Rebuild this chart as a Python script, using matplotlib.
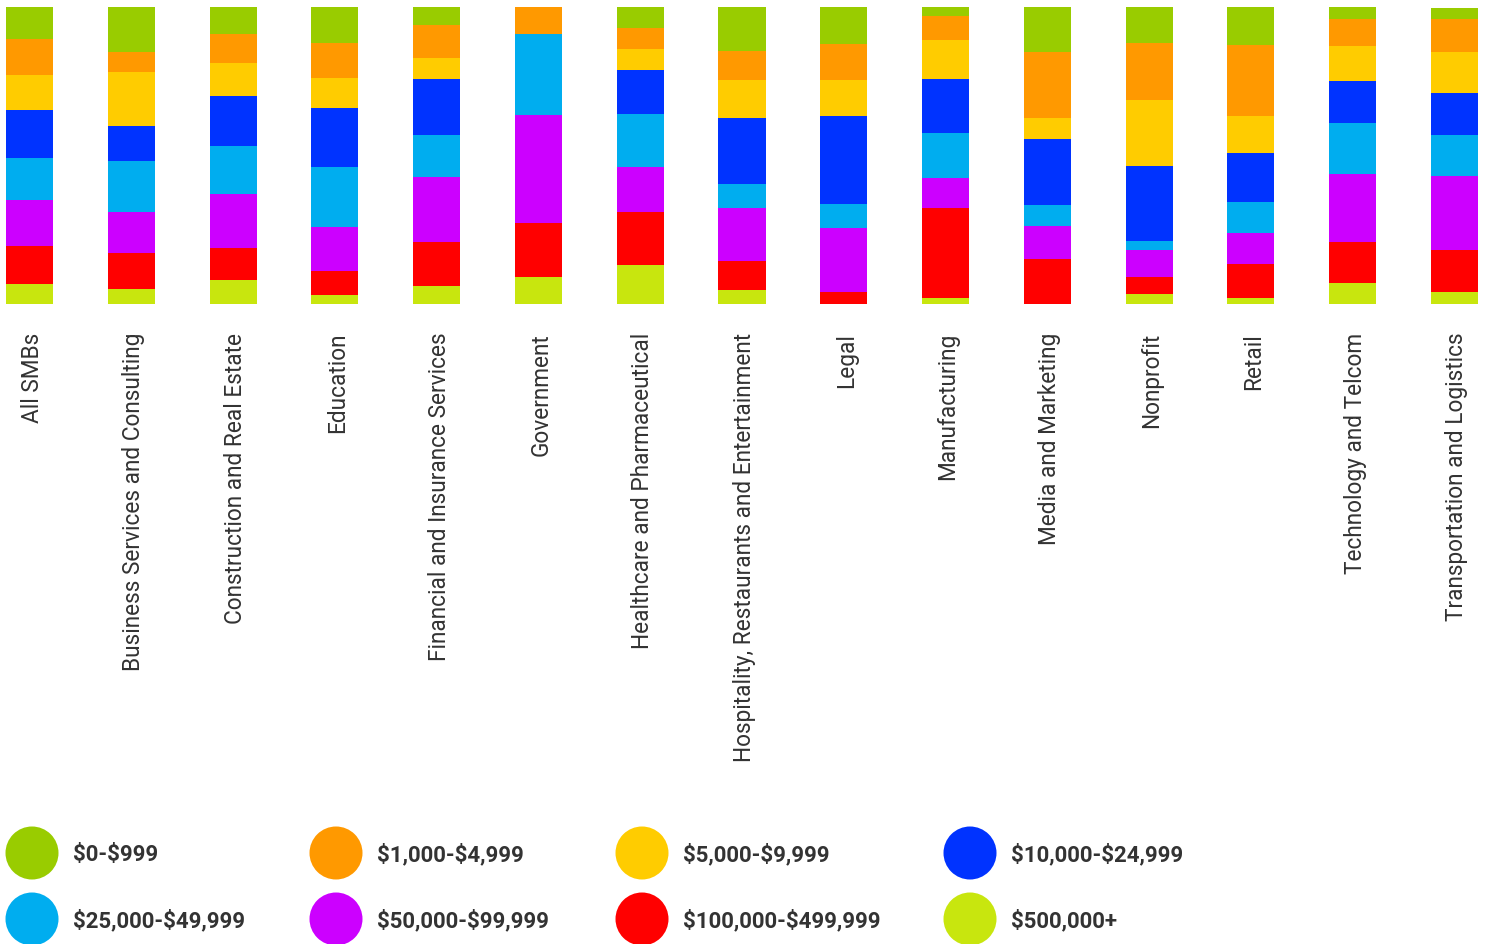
import matplotlib
matplotlib.use("Agg")
import matplotlib.pyplot as plt
from matplotlib.patches import Circle
from matplotlib.transforms import ScaledTranslation
import numpy as np

plt.rcParams['font.family'] = ['Roboto', 'DejaVu Sans']
plt.rcParams['text.parse_math'] = False

categories = [
    "All SMBs",
    "Business Services and Consulting",
    "Construction and Real Estate",
    "Education",
    "Financial and Insurance Services",
    "Government",
    "Healthcare and Pharmaceutical",
    "Hospitality, Restaurants and Entertainment",
    "Legal",
    "Manufacturing",
    "Media and Marketing",
    "Nonprofit",
    "Retail",
    "Technology and Telcom",
    "Transportation and Logistics",
]

# Spend brackets (legend order, top of stack first)
brackets = [
    "$0-$999", "$1,000-$4,999", "$5,000-$9,999", "$10,000-$24,999",
    "$25,000-$49,999", "$50,000-$99,999", "$100,000-$499,999", "$500,000+",
]
colors = ["#99CC00", "#FF9900", "#FFCC00", "#0033FF",
          "#00ADEF", "#CC00FF", "#FF0000", "#C8E60E"]

# Share of respondents (%) per bracket, one value per category
share_0_999 = [10.7, 15.2, 9.1, 12.0, 5.9, 0.0, 7.1, 14.7, 12.5, 3.0, 15.4, 12.0, 12.7, 3.9, 3.9]
share_1k_5k = [12.2, 6.7, 9.8, 11.9, 11.2, 9.1, 7.1, 9.9, 12.1, 8.1, 22.0, 19.3, 24.0, 9.2, 11.2]
share_5k_10k = [11.8, 18.2, 11.1, 10.1, 7.1, 0.0, 7.1, 12.8, 12.1, 13.1, 7.1, 22.2, 12.5, 11.8, 13.8]
share_10k_25k = [16.2, 11.8, 16.8, 19.9, 18.9, 0.0, 14.8, 22.2, 29.6, 18.2, 22.2, 25.3, 16.5, 14.1, 14.1]
share_25k_50k = [14.1, 17.2, 16.4, 20.2, 14.1, 27.3, 17.8, 8.1, 8.1, 15.2, 7.1, 3.0, 10.4, 17.2, 13.8]
share_50k_100k = [15.5, 13.7, 18.0, 14.7, 21.9, 36.4, 15.2, 17.8, 21.5, 10.1, 11.0, 9.0, 10.4, 22.9, 24.9]
share_100k_500k = [12.8, 12.2, 10.8, 8.2, 14.8, 18.2, 17.8, 9.8, 4.0, 30.3, 15.3, 5.8, 11.4, 13.8, 14.1]
share_500k_plus = [6.7, 5.1, 8.1, 3.0, 6.1, 9.1, 13.1, 4.7, 0.0, 2.0, 0.0, 3.4, 2.0, 7.1, 4.0]

series = [share_0_999, share_1k_5k, share_5k_10k, share_10k_25k,
          share_25k_50k, share_50k_100k, share_100k_500k, share_500k_plus]

W, H = 1488, 945
fig = plt.figure(figsize=(W / 100, H / 100), dpi=100)

bar_w = 0.462
n = len(categories)
left_px, right_px, top_px, bot_px = 6, 1478, 8, 305
ax = fig.add_axes([left_px / W, 1 - bot_px / H,
                   (right_px - left_px) / W, (bot_px - top_px) / H])

x = np.arange(n)
bottom = np.zeros(n)
# stack from the largest bracket at the bottom up to the smallest at the top
for vals, col in zip(series[::-1], colors[::-1]):
    v = np.array(vals)
    ax.bar(x, v, width=bar_w, bottom=bottom, color=col, linewidth=0)
    bottom += v

ax.set_xlim(-bar_w / 2, n - 1 + bar_w / 2)
ax.set_ylim(0, 100)
ax.set_yticks([])
ax.set_xticks(x)
ax.set_xticklabels(categories, rotation=90, fontsize=16.3, color="#333333",
                   va="top", ha="center")
ax.tick_params(axis="x", length=0, pad=20)
shift = ScaledTranslation(2.5 / 100, 0, fig.dpi_scale_trans)
for lbl in ax.get_xticklabels():
    lbl.set_transform(lbl.get_transform() + shift)
for s in ax.spines.values():
    s.set_visible(False)

# Legend drawn on a pixel-space overlay
lax = fig.add_axes([0, 0, 1, 1], facecolor="none")
lax.set_xlim(0, W)
lax.set_ylim(H, 0)
lax.axis("off")
col_circle_x = [32, 336, 642, 970]
row_y = [854, 920]
radius = 26.5
for i, (lab, col) in enumerate(zip(brackets, colors)):
    r, c = divmod(i, 4)
    cx, cy = col_circle_x[c], row_y[r]
    lax.add_patch(Circle((cx, cy), radius, color=col, linewidth=0))
    lax.text(cx + 41, cy + 1, lab, fontsize=16, fontweight="bold",
             color="#333333", va="center", ha="left")

fig.savefig("out.png", dpi=100)
